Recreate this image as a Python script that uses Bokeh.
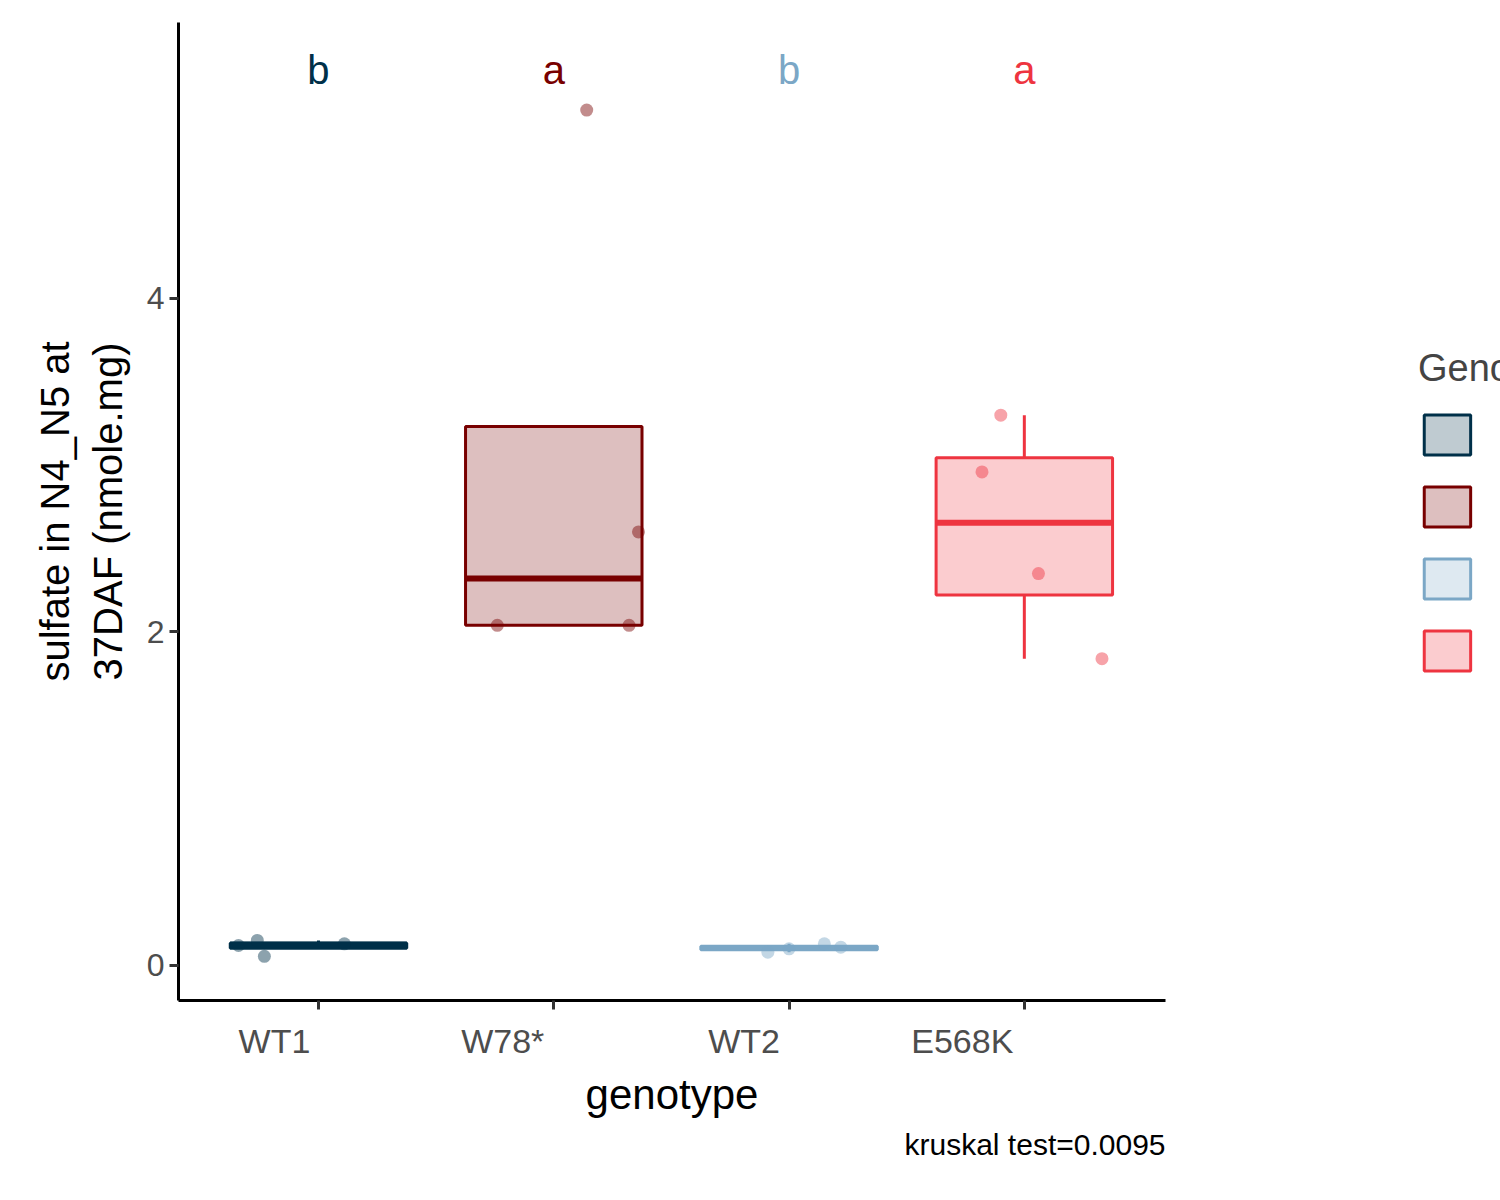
import numpy as np
from bokeh.plotting import figure
from bokeh.models import Label, Title, Legend, LegendItem, FixedTicker, Range1d, LinearAxis
from bokeh.embed import file_html
from bokeh.resources import INLINE

genotypes = ["WT1", "W78*", "WT2", "E568K"]
colors = ["#003049", "#780000", "#7BA7C6", "#EE3440"]
letters = ["b", "a", "b", "a"]
values = [
    [0.12, 0.15, 0.055, 0.13],
    [5.13, 2.60, 2.04, 2.04],
    [0.08, 0.10, 0.13, 0.11],
    [3.30, 2.96, 2.35, 1.84],
]
jitter = [
    [-0.34, -0.26, -0.23, 0.11],
    [0.14, 0.36, -0.24, 0.32],
    [-0.09, 0.0, 0.15, 0.22],
    [-0.10, -0.18, 0.06, 0.33],
]
FONT = "Liberation Sans"
PX_PER_UNIT = 235.3
label_half_px = [44, 51, 45, 62]  # half-widths of right-aligned tick labels

p = figure(frame_width=987, frame_height=978, output_backend="svg", toolbar_location=None,
           x_range=Range1d(0.405, 4.60), y_range=Range1d(-0.21, 5.655),
           min_border_left=178, min_border_top=22, min_border_bottom=10, min_border_right=0)
p.xgrid.visible = False
p.ygrid.visible = False
p.outline_line_color = None

legend_items = []
bw = 0.375
for i, (g, c, vals, jit) in enumerate(zip(genotypes, colors, values, jitter)):
    x = i + 1
    v = np.array(vals)
    q1, med, q3 = np.percentile(v, [25, 50, 75])
    iqr = q3 - q1
    lo = v[v >= q1 - 1.5 * iqr].min()
    hi = v[v <= q3 + 1.5 * iqr].max()
    if hi > q3:
        p.segment(x, q3, x, hi, line_color=c, line_width=3)
    if lo < q1:
        p.segment(x, lo, x, q1, line_color=c, line_width=3)
    r1 = p.quad(left=x - bw, right=x + bw, bottom=q1, top=q3, fill_color=c, fill_alpha=0.25,
                line_color=c, line_width=3)
    p.segment(x - bw, med, x + bw, med, line_color=c, line_width=6)
    p.scatter([x + j for j in jit], vals, size=13, color=c, alpha=0.45, line_color=None)
    p.add_layout(Label(x=x, y=5.37, text=letters[i], text_color=c, text_align="center",
                       text_baseline="middle", text_font=FONT, text_font_size="40px"))
    legend_items.append(LegendItem(label=g, renderers=[r1]))

p.xaxis.ticker = FixedTicker(ticks=[1, 2, 3, 4])
p.xaxis.major_label_overrides = {1: "", 2: "", 3: "", 4: ""}
p.xaxis.major_label_text_font_size = "1px"
p.yaxis.ticker = FixedTicker(ticks=[0, 2, 4])
for ax in [p.xaxis[0], p.yaxis[0]]:
    ax.axis_line_width = 3
    ax.axis_line_color = "black"
    ax.major_tick_line_width = 3
    ax.major_tick_line_color = "#333333"
    ax.major_tick_out = 9
    ax.major_tick_in = 0
    ax.minor_tick_line_color = None
    ax.axis_label_text_font = FONT
    ax.axis_label_text_font_size = "40px"
    ax.axis_label_text_font_style = "normal"
    ax.axis_label_text_color = "black"
p.yaxis.major_label_text_font = FONT
p.yaxis.major_label_text_font_size = "32px"
p.yaxis.major_label_text_color = "#4d4d4d"
p.yaxis.axis_label = "sulfate in N4_N5 at\n37DAF (nmole.mg)"
p.yaxis.axis_label_standoff = 14

lab_pos = [i + 1 - hw / PX_PER_UNIT for i, hw in enumerate(label_half_px)]
ax2 = LinearAxis(ticker=FixedTicker(ticks=lab_pos),
                 major_label_overrides={pos: g for pos, g in zip(lab_pos, genotypes)},
                 axis_line_color=None, major_tick_line_color=None, minor_tick_line_color=None,
                 major_label_text_font=FONT, major_label_text_font_size="34px",
                 major_label_text_color="#4d4d4d", major_label_standoff=6,
                 axis_label="genotype", axis_label_text_font=FONT, axis_label_text_font_size="42px",
                 axis_label_text_font_style="normal", axis_label_text_color="black",
                 axis_label_standoff=8)
p.add_layout(ax2, "below")

legend = Legend(items=legend_items, title="Genotype", title_text_font=FONT,
                title_text_font_style="normal",
                title_text_font_size="38px", label_text_font=FONT, label_text_font_size="36px",
                glyph_width=58, glyph_height=50, label_height=50, spacing=22,
                border_line_color=None, background_fill_alpha=0, margin=32, padding=8,
                title_standoff=20, label_standoff=30)
p.add_layout(legend, "right")
legend.location = "center"

p.add_layout(Title(text="kruskal test=0.0095", align="right", text_font=FONT,
                   text_font_size="30px", text_font_style="normal", text_color="black"), "below")

open("out.html", "w").write(file_html(p, INLINE))
